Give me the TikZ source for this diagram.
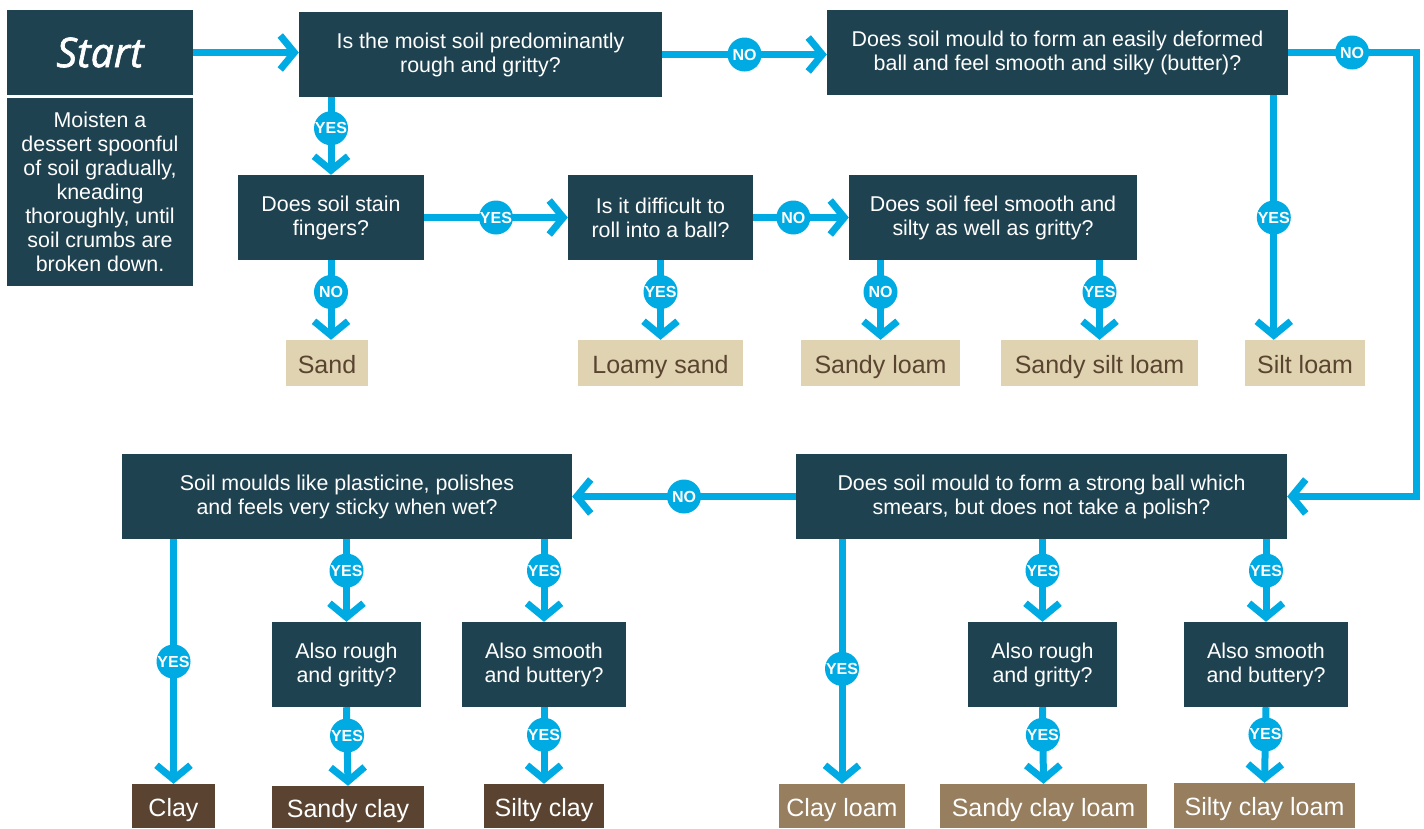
\documentclass[tikz,border=0pt]{standalone}
\usepackage{fontspec}
\setmainfont{Liberation Sans}
\newfontfamily\startfont{Open Sans}[ItalicFeatures={FakeBold=1.5}]
\usepackage{tikz}
\usepackage{xcolor}
\usetikzlibrary{arrows.meta, positioning}

\definecolor{qteal}{HTML}{1F4250}
\definecolor{flowblue}{HTML}{00ABE3}
\definecolor{leafbeige}{HTML}{DFD3B2}
\definecolor{leaftext}{HTML}{5A4430}
\definecolor{leafdark}{HTML}{5A4330}
\definecolor{leafmid}{HTML}{967E5E}

\tikzset{
    qbox/.style={fill=qteal, text=white, align=center, inner sep=0pt, font=\fontsize{21.4}{24}\selectfont},
    leaf/.style={inner sep=0pt, text height=20pt, text depth=0pt, font=\fontsize{25}{26}\selectfont},
    sandleaf/.style={leaf, fill=leafbeige, text=leaftext},
    clayleaf/.style={leaf, fill=leafdark, text=white},
    loamleaf/.style={leaf, fill=leafmid, text=white},
    flow/.style={draw=flowblue, line width=7pt, -{Straight Barb[length=14pt, width=34pt]}},
    badge/.style={circle, fill=flowblue, text=white, inner sep=0pt, minimum size=34pt, font=\bfseries\fontsize{16}{16}\selectfont},
}

\begin{document}
\begin{tikzpicture}[x=1pt, y=-1pt]
        \useasboundingbox (0,0) rectangle (1424,828);

        \node[qbox, minimum width=186, minimum height=85, font=\startfont\itshape\fontsize{41}{42}\selectfont] (start) at (100, 52.5) {Start};
        \node[qbox, minimum width=186, minimum height=188] (moist) at (100, 192) {Moisten a\\dessert spoonful\\of soil gradually,\\kneading\\thoroughly, until\\soil crumbs are\\broken down.};
        \node[qbox, minimum width=363, minimum height=85] (rough) at (480.5, 54.5) {Is the moist soil predominantly\\rough and gritty?};
        \node[qbox, minimum width=461, minimum height=85] (butter) at (1057.5, 52.5) {Does soil mould to form an easily deformed\\ball and feel smooth and silky (butter)?};
        \node[qbox, minimum width=186, minimum height=85] (stain) at (331, 217.5) {Does soil stain\\fingers?};
        \node[qbox, minimum width=185, minimum height=85] (roll) at (660.5, 217.5) {Is it difficult to\\roll into a ball?};
        \node[qbox, minimum width=288, minimum height=85] (silty) at (993, 217.5) {Does soil feel smooth and\\silty as well as gritty?};

        \node[sandleaf, minimum width=82, minimum height=46] (sand) at (327, 363) {Sand};
        \node[sandleaf, minimum width=165, minimum height=46] (lsand) at (660.5, 363) {Loamy sand};
        \node[sandleaf, minimum width=159, minimum height=46] (sloam) at (880.5, 363) {Sandy loam};
        \node[sandleaf, minimum width=197, minimum height=46] (ssloam) at (1099.5, 363) {Sandy silt loam};
        \node[sandleaf, minimum width=120, minimum height=46] (siltloam) at (1305, 363) {Silt loam};

        \node[qbox, minimum width=450, minimum height=85] (plast) at (347, 496.5) {Soil moulds like plasticine, polishes\\and feels very sticky when wet?};
        \node[qbox, minimum width=491, minimum height=85] (strong) at (1041.5, 496.5) {Does soil mould to form a strong ball which\\smears, but does not take a polish?};
        \node[qbox, minimum width=149, minimum height=85] (roughl) at (346.5, 664.5) {Also rough\\and gritty?};
        \node[qbox, minimum width=164, minimum height=85] (smoothl) at (544, 664.5) {Also smooth\\and buttery?};
        \node[qbox, minimum width=149, minimum height=85] (roughr) at (1042.5, 664.5) {Also rough\\and gritty?};
        \node[qbox, minimum width=164, minimum height=85] (smoothr) at (1266, 664.5) {Also smooth\\and buttery?};

        \node[clayleaf, minimum width=83, minimum height=44] (clay) at (173.5, 806) {Clay};
        \node[clayleaf, minimum width=152, minimum height=42] (sclay) at (348, 807) {Sandy clay};
        \node[clayleaf, minimum width=120, minimum height=44] (siclay) at (544, 806) {Silty clay};
        \node[loamleaf, minimum width=126, minimum height=44] (cloam) at (842, 806) {Clay loam};
        \node[loamleaf, minimum width=207, minimum height=44] (scloam) at (1043.5, 806) {Sandy clay loam};
        \node[loamleaf, minimum width=181, minimum height=45] (sicloam) at (1264.5, 805.5) {Silty clay loam};

        \coordinate (siltin) at ([xshift=29]siltloam.north west);
        \coordinate (rside) at (1416, 0);

        \draw[flow] (start.east) -- (start.east -| rough.west);
        \draw[flow] (rough.east) -- node[badge] {NO} (rough.east -| butter.west);
        \draw[flow] (stain.north |- rough.south) -- node[badge, pos=0.4] {YES} (stain.north);
        \draw[flow] (stain.east) -- node[badge] {YES} (stain.east -| roll.west);
        \draw[flow] (roll.east) -- node[badge, pos=0.42] {NO} (roll.east -| silty.west);
        \draw[flow] (stain.south) -- node[badge, pos=0.4] {NO} (stain.south |- sand.north);
        \draw[flow] (roll.south) -- node[badge, pos=0.4] {YES} (lsand.north);
        \draw[flow] (sloam.north |- silty.south) -- node[badge, pos=0.4] {NO} (sloam.north);
        \draw[flow] (ssloam.north |- silty.south) -- node[badge, pos=0.4] {YES} (ssloam.north);
        \draw[flow] (siltin |- butter.south) -- node[badge] {YES} (siltin);
        \draw[flow] (butter.east) -- node[badge] {NO} (butter.east -| rside) -- (rside |- strong.east) -- (strong.east);

        \draw[flow] (strong.west) -- node[badge] {NO} (strong.west -| plast.east);
        \draw[flow] (clay.north |- plast.south) -- node[badge] {YES} (clay.north);
        \draw[flow] (roughl.north |- plast.south) -- node[badge, pos=0.38] {YES} (roughl.north);
        \draw[flow] (smoothl.north |- plast.south) -- node[badge, pos=0.38] {YES} (smoothl.north);
        \draw[flow] (roughl.south) -- node[badge, pos=0.36] {YES} (sclay.north);
        \draw[flow] (smoothl.south) -- node[badge, pos=0.36] {YES} (siclay.north);
        \draw[flow] (cloam.north |- strong.south) -- node[badge, pos=0.53] {YES} (cloam.north);
        \draw[flow] (roughr.north |- strong.south) -- node[badge, pos=0.38] {YES} (roughr.north);
        \draw[flow] (smoothr.north |- strong.south) -- node[badge, pos=0.38] {YES} (smoothr.north);
        \draw[flow] (roughr.south) -- node[badge, pos=0.36] {YES} (scloam.north);
        \draw[flow] (smoothr.south) -- node[badge, pos=0.36] {YES} (sicloam.north);
    \end{tikzpicture}
\end{document}
